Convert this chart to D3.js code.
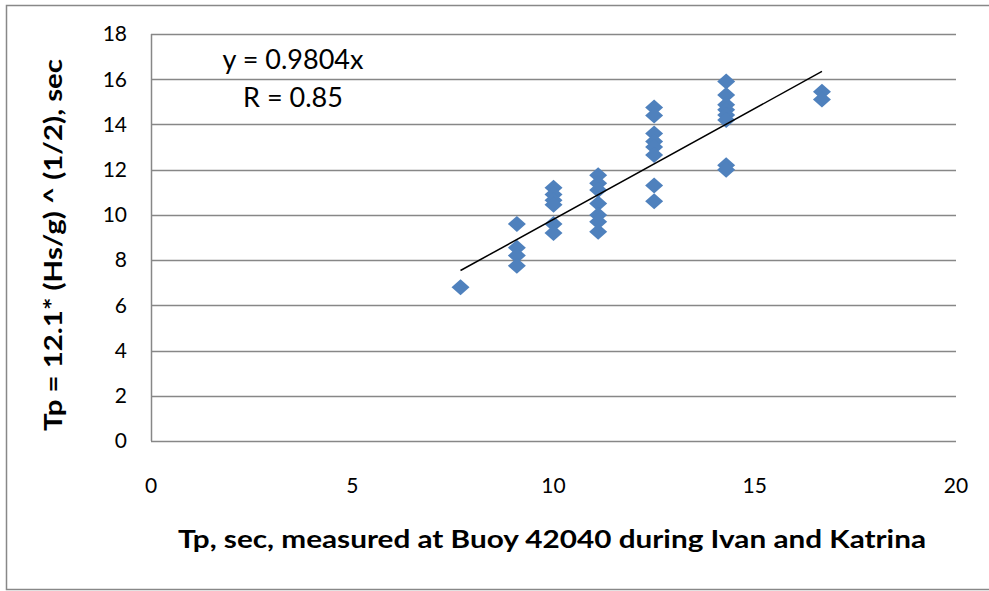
<!DOCTYPE html>
<html>
<head>
<meta charset="utf-8">
<script src="https://cdn.jsdelivr.net/npm/d3@7/dist/d3.min.js"></script>
<style>
  html, body { margin: 0; padding: 0; background: #fff; }
  svg { display: block; }
</style>
</head>
<body>
<div id="chart"></div>
<script>
// Measured peak periods (s) at Buoy 42040 and the matching estimated periods
const periodBins = [7.69, 9.09, 10, 11.11, 12.5, 14.29, 16.67];
const estimatedByBin = [
  [6.8],
  [9.6, 8.55, 8.2, 7.75],
  [11.2, 10.9, 10.65, 10.45, 9.6, 9.2],
  [11.75, 11.4, 11.1, 10.5, 10.0, 9.7, 9.25],
  [14.75, 14.4, 13.6, 13.25, 13.0, 12.65, 11.3, 10.6],
  [15.9, 15.3, 14.87, 14.65, 14.42, 14.2, 12.2, 12.0],
  [15.45, 15.1]
];
const slope = 0.9804;
const rValue = 0.85;
const xTicks = [0, 5, 10, 15, 20];
const yTicks = [0, 2, 4, 6, 8, 10, 12, 14, 16, 18];

const points = [];
periodBins.forEach((tp, i) => estimatedByBin[i].forEach(v => points.push({x: tp, y: v})));

const W = 989, H = 591;
const plotLeft = 151, plotRight = 956, plotTop = 34, plotBottom = 441;

const svg = d3.select("#chart").append("svg").attr("width", W).attr("height", H);
const font = "Lato, 'Open Sans', sans-serif";

// chart frame
svg.append("rect").attr("x", 6.5).attr("y", 5.5).attr("width", 1000).attr("height", 584)
  .attr("fill", "none").attr("stroke", "#888").attr("stroke-width", 1.5);

const x = d3.scaleLinear().domain([0, 20]).range([plotLeft, plotRight]);
const y = d3.scaleLinear().domain([0, 18]).range([plotBottom, plotTop]);

// horizontal gridlines
svg.append("g").selectAll("line").data(yTicks.filter(t => t > 0)).join("line")
  .attr("x1", plotLeft).attr("x2", plotRight)
  .attr("y1", d => Math.round(y(d)) + 0.5).attr("y2", d => Math.round(y(d)) + 0.5)
  .attr("stroke", "#878787").attr("stroke-width", 1.5);

// axes lines
svg.append("line").attr("x1", plotLeft + 0.5).attr("x2", plotLeft + 0.5).attr("y1", y(18)).attr("y2", y(0))
  .attr("stroke", "#878787").attr("stroke-width", 1.5);
svg.append("line").attr("x1", plotLeft).attr("x2", plotRight).attr("y1", y(0) + 0.5).attr("y2", y(0) + 0.5)
  .attr("stroke", "#878787").attr("stroke-width", 1.5);

// tick labels
svg.append("g").selectAll("text").data(yTicks).join("text")
  .attr("x", 127).attr("y", d => y(d)).attr("dy", "0.35em")
  .attr("text-anchor", "end").attr("font-family", font).attr("font-size", 21).attr("fill", "#000")
  .text(d => d);
svg.append("g").selectAll("text").data(xTicks).join("text")
  .attr("x", d => x(d)).attr("y", 486).attr("dy", "0.35em")
  .attr("text-anchor", "middle").attr("font-family", font).attr("font-size", 21).attr("fill", "#000")
  .text(d => d);

// axis titles
svg.append("text").attr("x", (178 + 926) / 2).attr("y", 548)
  .attr("text-anchor", "middle").attr("font-family", font).attr("font-weight", "bold")
  .attr("font-size", 24).attr("textLength", 748).attr("lengthAdjust", "spacingAndGlyphs")
  .text("Tp, sec, measured at Buoy 42040 during Ivan and Katrina");
svg.append("text").attr("transform", "translate(62,245) rotate(-90)")
  .attr("text-anchor", "middle").attr("font-family", font).attr("font-weight", "bold")
  .attr("font-size", 24).attr("textLength", 372).attr("lengthAdjust", "spacingAndGlyphs")
  .text("Tp = 12.1* (Hs/g) ^ (1/2), sec");

// markers
const hw = 9, hh = 8;
svg.append("g").selectAll("path").data(points).join("path")
  .attr("transform", d => `translate(${x(d.x)},${y(d.y)})`)
  .attr("d", `M0,${-hh}L${hw},0L0,${hh}L${-hw},0Z`)
  .attr("fill", "#4F81BD");

// linear trendline through the origin
const xMin = d3.min(periodBins), xMax = d3.max(periodBins);
svg.append("line")
  .attr("x1", x(xMin)).attr("y1", y(slope * xMin))
  .attr("x2", x(xMax)).attr("y2", y(slope * xMax))
  .attr("stroke", "#000").attr("stroke-width", 1.5);

// equation labels
svg.append("text").attr("x", 293).attr("y", 60).attr("dy", "0.35em")
  .attr("text-anchor", "middle").attr("font-family", font).attr("font-size", 27)
  .text(`y = ${slope}x`);
svg.append("text").attr("x", 293).attr("y", 98).attr("dy", "0.35em")
  .attr("text-anchor", "middle").attr("font-family", font).attr("font-size", 27)
  .text(`R = ${rValue}`);
</script>
</body>
</html>
